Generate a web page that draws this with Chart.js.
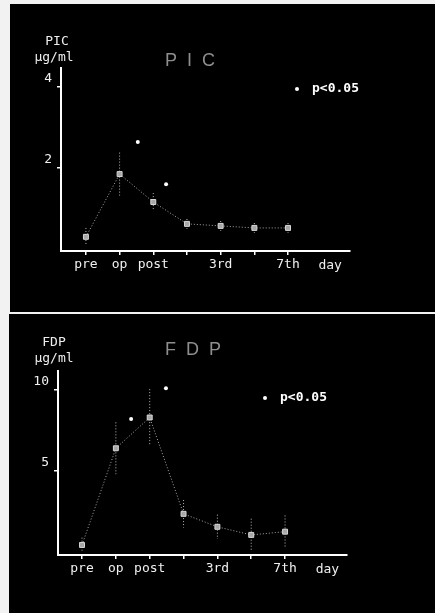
<!DOCTYPE html>
<html>
<head>
<meta charset="utf-8">
<script src="https://cdn.jsdelivr.net/npm/chart.js@4"></script>
<style>
  html, body { margin: 0; padding: 0; background: #f2f2f2; width: 435px; height: 613px; overflow: hidden; }
  .panel { position: absolute; background: #000; }
  #p1 { left: 10px; top: 4px; width: 425px; height: 308px; }
  #p2 { left: 9px; top: 314px; width: 426px; height: 299px; }
</style>
</head>
<body>
<div class="panel" id="p1"><canvas id="pic"></canvas></div>
<div class="panel" id="p2"><canvas id="fdp"></canvas></div>
<script>
const days = ["pre", "op", "post", "", "3rd", "", "7th"];

const picMean = [0.3, 1.85, 1.16, 0.62, 0.57, 0.52, 0.52];
const picErr = [0.22, 0.53, 0.22, 0.12, 0.12, 0.12, 0.12];
const picStarX = [1.54, 2.38];
const picStarY = [2.64, 1.6];
const picTicks = [2, 4];

const fdpMean = [0.43, 6.4, 8.3, 2.35, 1.55, 1.05, 1.25];
const fdpErr = [0.45, 1.6, 1.75, 0.85, 0.75, 1.0, 1.0];
const fdpStarX = [1.45, 2.48];
const fdpStarY = [8.2, 10.1];
const fdpTicks = [5, 10];

const mono = "'DejaVu Sans Mono', monospace";
Chart.defaults.animation = false;

// error bars + extra text
const extras = {
  id: "extras",
  beforeDatasetsDraw(chart, args, o) {
    const ctx = chart.ctx, x = chart.scales.x, y = chart.scales.y;
    ctx.save();
    ctx.strokeStyle = "#bbb";
    ctx.lineWidth = 1;
    ctx.setLineDash([1, 2]);
    o.mean.forEach((m, i) => {
      const px = x.getPixelForValue(i);
      ctx.beginPath();
      ctx.moveTo(px, y.getPixelForValue(m + o.err[i]));
      ctx.lineTo(px, y.getPixelForValue(m - o.err[i]));
      ctx.stroke();
    });
    ctx.restore();
  },
  afterDraw(chart, args, o) {
    const ctx = chart.ctx, a = chart.chartArea;
    ctx.save();
    ctx.textAlign = "center";
    ctx.textBaseline = "middle";
    // title
    ctx.fillStyle = "#8e8e8e";
    ctx.font = "18px 'Liberation Sans'";
    ctx.fillText(o.title, o.titleX, o.titleY);
    // y axis unit
    ctx.fillStyle = "#eee";
    ctx.font = "13px " + mono;
    ctx.fillText(o.name, o.nameX, o.nameY);
    ctx.fillText("μg/ml", o.unitX, o.nameY + 16);
    // day
    ctx.font = "13px " + mono;
    ctx.fillText("day", chart.scales.x.getPixelForValue(7.25), a.bottom + 15);
    // legend
    ctx.fillStyle = "#fff";
    ctx.beginPath();
    ctx.arc(o.legX, o.legY, 2, 0, Math.PI * 2);
    ctx.fill();
    ctx.textAlign = "left";
    ctx.font = "bold 13px " + mono;
    ctx.fillText("p<0.05", o.legX + 15, o.legY);
    ctx.restore();
  }
};

function makeChart(id, mean, err, starX, starY, yTicks, yMin, yMax, xMin, xMax, area, ex) {
  const canvas = document.getElementById(id);
  const W = canvas.parentNode.clientWidth, H = canvas.parentNode.clientHeight;
  return new Chart(canvas, {
    type: "scatter",
    data: {
      datasets: [
        {
          data: mean.map((v, i) => ({ x: i, y: v })),
          showLine: true,
          borderColor: "#a8a8a8",
          borderWidth: 1,
          borderDash: [1, 2],
          pointStyle: "rect",
          pointRadius: 3.5,
          pointBackgroundColor: "#a8a8a8",
          pointBorderColor: "#d8d8d8",
          pointBorderWidth: 1,
        },
        {
          data: starX.map((v, i) => ({ x: v, y: starY[i] })),
          pointStyle: "circle",
          pointRadius: 2,
          pointBackgroundColor: "#fff",
          pointBorderColor: "#fff",
          borderWidth: 0,
        },
      ],
    },
    options: {
      responsive: true,
      maintainAspectRatio: false,
      layout: { padding: { left: 0, top: area.top, right: W - area.right, bottom: 0 } },
      scales: {
        x: {
          type: "linear",
          min: xMin,
          max: xMax,
          afterFit: (s) => { s.height = H - area.bottom; },
          afterBuildTicks: (s) => { s.ticks = days.map((d, i) => ({ value: i })); },
          ticks: {
            color: "#f0f0f0",
            font: { family: mono, size: 13 },
            padding: 2,
            maxRotation: 0,
            autoSkip: false,
            callback: (v) => days[v],
          },
          grid: { drawOnChartArea: false, drawTicks: true, tickLength: 4, color: "#fff", lineWidth: 1.5 },
          border: { display: true, color: "#fff", width: 2 },
        },
        y: {
          min: yMin,
          max: yMax,
          afterFit: (s) => { s.width = area.left; },
          afterBuildTicks: (s) => { s.ticks = yTicks.map((v) => ({ value: v })); },
          ticks: {
            color: "#f0f0f0",
            font: { family: mono, size: 13 },
            padding: 5,
            labelOffset: -8,
          },
          grid: { drawOnChartArea: false, drawTicks: true, tickLength: 4, color: "#fff", lineWidth: 1.5 },
          border: { display: true, color: "#fff", width: 2 },
        },
      },
      plugins: {
        legend: { display: false },
        tooltip: { enabled: false },
        extras: Object.assign({ mean: mean, err: err }, ex),
      },
    },
    plugins: [extras],
  });
}

makeChart("pic", picMean, picErr, picStarX, picStarY, picTicks, -0.05, 4.47, -0.74, 7.84,
  { left: 51, right: 340, top: 64, bottom: 247 },
  { title: "P  I  C", titleX: 180, titleY: 57, name: "PIC", nameX: 47, unitX: 44, nameY: 38, legX: 287, legY: 85 });

makeChart("fdp", fdpMean, fdpErr, fdpStarX, fdpStarY, fdpTicks, -0.19, 11.17, -0.71, 7.83,
  { left: 49, right: 338, top: 57, bottom: 241 },
  { title: "F  D  P", titleX: 184, titleY: 36, name: "FDP", nameX: 45, unitX: 45, nameY: 29, legX: 256, legY: 84 });
</script>
</body>
</html>
